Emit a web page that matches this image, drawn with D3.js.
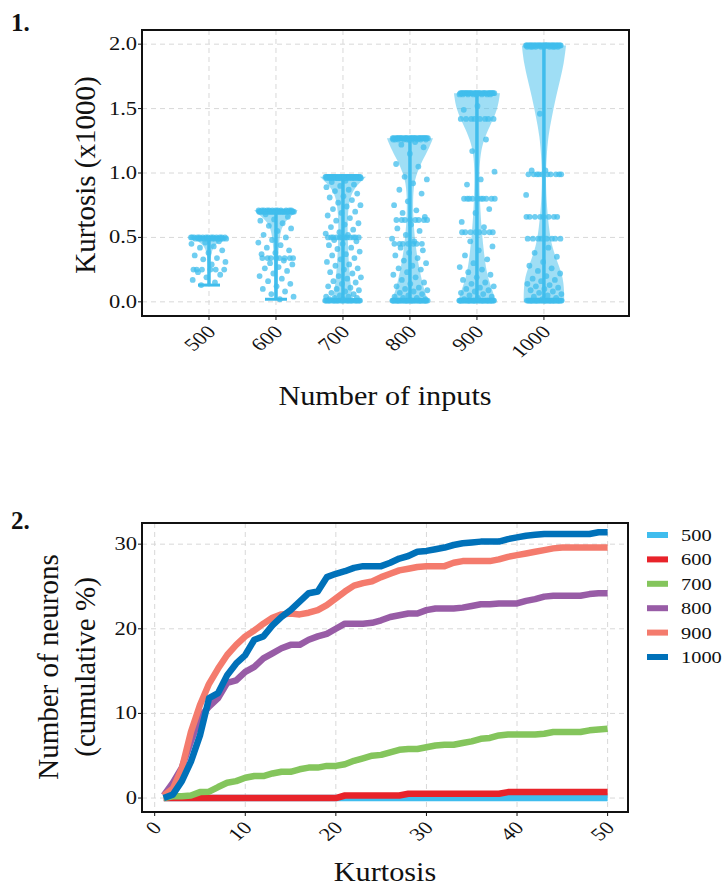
<!DOCTYPE html>
<html>
<head>
<meta charset="utf-8">
<script src="https://cdn.jsdelivr.net/npm/d3@7"></script>
<style>
  body { margin: 0; background: #fff; }
  svg { display: block; }
  text { font-family: "Liberation Serif", "Times New Roman", serif; fill: #111; }
</style>
</head>
<body>
<svg id="fig" width="725" height="886"></svg>
<script>
// ---------- Panel 1: kurtosis distribution per number of inputs ----------
const inputCounts = [500, 600, 700, 800, 900, 1000];
const kurtTicks = [0, 0.5, 1.0, 1.5, 2.0];
const kurtTickLabels = ["0.0", "0.5", "1.0", "1.5", "2.0"];

// repeated kurtosis values (x1000) as [value, number of neurons]
const clusters500 = [[0.50, 14], [0.49, 12], [0.25, 6]];
const clusters600 = [[0.71, 12], [0.70, 30], [0.34, 8]];
const clusters700 = [[0.97, 40], [0.96, 15], [0.50, 12], [0.01, 30]];
const clusters800 = [[1.27, 30], [1.26, 10], [0.635, 8], [0.45, 7], [0.01, 40]];
const clusters900 = [[1.62, 30], [1.61, 8], [1.42, 8], [0.80, 10], [0.54, 8], [0.01, 40]];
const clusters1000 = [[1.99, 35], [1.98, 10], [0.99, 10], [1.02, 2], [0.66, 8], [0.49, 8], [0.01, 40]];
// single kurtosis values (x1000)
const singles500 = [0.47, 0.46, 0.45, 0.43, 0.42, 0.40, 0.38, 0.36, 0.34, 0.33, 0.31, 0.29,
  0.23, 0.21, 0.19, 0.17, 0.15, 0.13];
const singles600 = [0.68, 0.66, 0.64, 0.63, 0.61, 0.59, 0.57, 0.55, 0.52, 0.50, 0.48, 0.46, 0.44,
  0.42, 0.40, 0.38, 0.37, 0.32, 0.30, 0.29, 0.27, 0.26, 0.24, 0.22, 0.20, 0.18, 0.16, 0.14, 0.12,
  0.10, 0.08, 0.06, 0.04, 0.02];
const singles700 = [0.94, 0.93, 0.91, 0.90, 0.89, 0.87, 0.86, 0.84, 0.82, 0.81, 0.79, 0.77, 0.75,
  0.74, 0.72, 0.70, 0.69, 0.67, 0.65, 0.63, 0.61, 0.60, 0.58, 0.56, 0.54, 0.53, 0.52, 0.48, 0.47,
  0.45, 0.44, 0.42, 0.41, 0.39, 0.37, 0.36, 0.34, 0.33, 0.31, 0.29, 0.28, 0.26, 0.25, 0.23, 0.22,
  0.20, 0.19, 0.18, 0.16, 0.15, 0.14, 0.12, 0.11, 0.10, 0.09, 0.08, 0.07, 0.06, 0.05, 0.04, 0.04,
  0.03, 0.03, 0.02, 0.02];
const singles800 = [1.24, 1.22, 1.20, 1.15, 1.07, 1.05, 0.97, 0.95, 0.92, 0.87, 0.84, 0.78, 0.75,
  0.71, 0.69, 0.66, 0.60, 0.57, 0.55, 0.52, 0.49, 0.47, 0.42, 0.40, 0.38, 0.36, 0.34, 0.32, 0.30,
  0.28, 0.26, 0.25, 0.23, 0.21, 0.19, 0.17, 0.15, 0.14, 0.12, 0.11, 0.10, 0.09, 0.08, 0.07, 0.06,
  0.05, 0.04, 0.03, 0.03, 0.02];
const singles900 = [1.52, 1.49, 1.26, 1.17, 1.01, 0.95, 0.91, 0.72, 0.69, 0.62, 0.58, 0.47, 0.43,
  0.40, 0.36, 0.33, 0.30, 0.27, 0.25, 0.23, 0.21, 0.19, 0.17, 0.15, 0.14, 0.12, 0.11, 0.10, 0.09,
  0.08, 0.07, 0.06, 0.05, 0.04, 0.03, 0.02];
const singles1000 = [1.46, 0.83, 0.42, 0.38, 0.35, 0.31, 0.28, 0.26, 0.24, 0.22, 0.20, 0.18, 0.17,
  0.16, 0.14, 0.13, 0.12, 0.11, 0.10, 0.09, 0.08, 0.07, 0.06, 0.05, 0.04, 0.03, 0.02];
const clusterSets = [clusters500, clusters600, clusters700, clusters800, clusters900, clusters1000];
const singleSets = [singles500, singles600, singles700, singles800, singles900, singles1000];

// violin density profiles as [kurtosis, relative density]
const dens500 = [[0.13, 0.03], [0.30, 0.05], [0.42, 0.12], [0.47, 0.45], [0.50, 0.8]];
const dens600 = [[0.02, 0.05], [0.20, 0.08], [0.40, 0.10], [0.58, 0.2], [0.65, 0.55], [0.71, 0.95]];
const dens700 = [[0.00, 0.45], [0.10, 0.35], [0.30, 0.25], [0.50, 0.2], [0.70, 0.2],
  [0.85, 0.35], [0.93, 0.75], [0.97, 1.0]];
const dens800 = [[0.00, 0.8], [0.10, 0.6], [0.30, 0.35], [0.50, 0.2], [0.70, 0.12],
  [0.90, 0.15], [1.00, 0.3], [1.10, 0.55], [1.20, 0.85], [1.27, 1.0]];
const dens900 = [[0.00, 0.8], [0.07, 0.72], [0.17, 0.5], [0.30, 0.35], [0.56, 0.2], [0.80, 0.12],
  [1.00, 0.1], [1.15, 0.15], [1.26, 0.3], [1.36, 0.55], [1.49, 0.9], [1.62, 1.0]];
const dens1000 = [[0.00, 0.88], [0.09, 0.88], [0.20, 0.82], [0.30, 0.6], [0.43, 0.35],
  [0.56, 0.22], [0.80, 0.1], [1.00, 0.08], [1.13, 0.12], [1.28, 0.18], [1.44, 0.35],
  [1.59, 0.52], [1.72, 0.7], [1.85, 0.87], [1.99, 0.96]];
const densities = [dens500, dens600, dens700, dens800, dens900, dens1000];

// ---------- Panel 2: cumulative share of neurons vs kurtosis ----------
const kurtSteps = d3.range(1, 51);
const kurtAxisTicks = [0, 10, 20, 30, 40, 50];
const pctTicks = [0, 10, 20, 30];
const seriesNames = ["500", "600", "700", "800", "900", "1000"];
const seriesColors = ["#3fbdee", "#e8232a", "#84c55c", "#985ca6", "#f47b6d", "#0071b9"];

const cum500 = [0,0,0,0,0,0,0,0,0,0, 0,0,0,0,0,0,0,0,0,0, 0,0,0,0,0,0,0,0,0,0,
  0,0,0,0,0,0,0,0,0,0, 0,0,0,0,0,0,0,0,0,0];
const cum600 = [0,0,0,0,0,0,0,0,0,0, 0,0,0,0,0,0,0,0,0,0, 0.3,0.3,0.3,0.3,0.3,0.3,0.3,0.5,0.5,0.5,
  0.5,0.5,0.5,0.5,0.5,0.5,0.5,0.5,0.7,0.7, 0.7,0.7,0.7,0.7,0.7,0.7,0.7,0.7,0.7,0.7];
const cum700 = [0,0.2,0.2,0.3,0.7,0.75,1.3,1.8,2.0,2.4, 2.6,2.6,2.9,3.1,3.1,3.4,3.6,3.6,3.8,3.8,
  4.0,4.4,4.7,5.0,5.1,5.4,5.7,5.8,5.8,6.0, 6.2,6.3,6.3,6.5,6.7,7.0,7.1,7.4,7.5,7.5,
  7.5,7.5,7.6,7.8,7.8,7.8,7.8,8.0,8.1,8.2];
const cum800 = [0.3,1.8,3.6,6.7,9.6,10.8,11.8,13.6,13.9,14.9, 15.5,16.5,17.1,17.7,18.1,18.1,18.7,19.1,19.4,20.0,
  20.6,20.6,20.6,20.7,21.0,21.4,21.6,21.8,21.8,22.2, 22.4,22.4,22.4,22.5,22.7,22.9,22.9,23.0,23.0,23.0,
  23.3,23.5,23.8,23.9,23.9,23.9,23.9,24.1,24.2,24.2];
const cum900 = [0.3,1.1,3.5,7.8,11.0,13.5,15.3,16.9,18.1,19.1, 19.8,20.6,21.3,21.7,21.8,21.7,21.9,22.2,22.8,23.6,
  24.4,25.1,25.4,25.6,26.1,26.5,26.9,27.1,27.3,27.4, 27.4,27.4,27.8,28.0,28.0,28.0,28.0,28.2,28.5,28.7,
  28.9,29.1,29.3,29.5,29.6,29.6,29.6,29.6,29.6,29.6];
const cum1000 = [0,0.4,2.0,4.3,7.4,11.8,12.4,14.5,15.9,16.9, 18.7,19.1,20.4,21.4,22.2,23.2,24.2,24.4,26.1,26.5,
  26.8,27.2,27.4,27.4,27.4,27.8,28.3,28.6,29.1,29.2, 29.4,29.6,29.9,30.1,30.2,30.3,30.3,30.3,30.6,30.8,
  31.0,31.1,31.2,31.2,31.2,31.2,31.2,31.2,31.4,31.4];
const cumSeries = [cum500, cum600, cum700, cum800, cum900, cum1000];

// ---------- drawing ----------
const svg = d3.select("#fig");
const gridColor = "#d8d8d8";
const ptColor = "#40bdec";
const sx = 1.25;   // horizontal widening of the small axis text

function txt(g, x, y, s, o = {}) {
  const t = g.append("text")
    .attr("transform", `translate(${x},${y}) scale(${o.sx || 1},1) rotate(${o.rot || 0})`)
    .attr("text-anchor", o.anchor || "start")
    .style("font-size", (o.size || 18) + "px")
    .text(s);
  if (o.bold) t.style("font-weight", "bold");
  return t;
}

function frame(x0, y0, x1, y1) {
  svg.append("rect").attr("x", x0).attr("y", y0).attr("width", x1 - x0).attr("height", y1 - y0)
    .attr("fill", "none").attr("stroke", "#111").attr("stroke-width", 2);
}

// ===== Panel 1 =====
const P1 = { l: 142, r: 629, t: 30, b: 316 };
const x1 = d3.scaleLinear().domain([400, 1127]).range([P1.l, P1.r]);
const y1 = d3.scaleLinear().domain([-0.11, 2.11]).range([P1.b, P1.t]);
const g1 = svg.append("g");

// grid
g1.selectAll(".vg").data(inputCounts).join("line")
  .attr("x1", d => x1(d)).attr("x2", d => x1(d)).attr("y1", P1.t).attr("y2", P1.b)
  .attr("stroke", gridColor).attr("stroke-dasharray", "5,4");
g1.selectAll(".hg").data(kurtTicks).join("line")
  .attr("x1", P1.l).attr("x2", P1.r).attr("y1", d => y1(d)).attr("y2", d => y1(d))
  .attr("stroke", gridColor).attr("stroke-dasharray", "5,4");

// violins, whiskers and jittered points
const halfW = d3.scaleLinear().domain([0, 1]).range([0, 23]);
const jitter = 18;
inputCounts.forEach((n, i) => {
  const cx = x1(n);
  const area = d3.area()
    .y(d => y1(d[0]))
    .x0(d => cx - halfW(d[1]))
    .x1(d => cx + halfW(d[1]))
    .curve(d3.curveBasis);
  g1.append("path").attr("d", area(densities[i]))
    .attr("fill", ptColor).attr("fill-opacity", 0.5).attr("stroke", "none");

  const flat = [];
  clusterSets[i].forEach(([v, c]) => { for (let k = 0; k < c; k++) flat.push(v); });
  singleSets[i].forEach(v => flat.push(v));
  const [lo, hi] = d3.extent(flat);

  g1.append("line").attr("x1", cx).attr("x2", cx).attr("y1", y1(lo)).attr("y2", y1(hi))
    .attr("stroke", ptColor).attr("stroke-width", 3.5);
  [lo, hi].forEach(v => {
    g1.append("line").attr("x1", cx - 11).attr("x2", cx + 11).attr("y1", y1(v)).attr("y2", y1(v))
      .attr("stroke", ptColor).attr("stroke-width", 3);
  });

  g1.selectAll(null).data(flat).join("circle")
    .attr("cx", (d, k) => cx + (((k * 0.6180339887 + 0.31 * i) % 1) - 0.5) * 2 * jitter)
    .attr("cy", d => y1(d))
    .attr("r", 2.9)
    .attr("fill", ptColor).attr("fill-opacity", 0.75);
});

frame(P1.l, P1.t, P1.r, P1.b);

// ticks and labels
inputCounts.forEach(n => {
  g1.append("line").attr("x1", x1(n)).attr("x2", x1(n)).attr("y1", P1.b).attr("y2", P1.b + 4)
    .attr("stroke", "#111").attr("stroke-width", 1);
  txt(g1, x1(n) + 8, P1.b + 17, String(n), { anchor: "end", rot: -45, sx: sx, size: 18 });
});
kurtTicks.forEach((v, i) => {
  g1.append("line").attr("x1", P1.l - 4).attr("x2", P1.l).attr("y1", y1(v)).attr("y2", y1(v))
    .attr("stroke", "#111").attr("stroke-width", 1);
  txt(g1, P1.l - 5, y1(v) + 6, kurtTickLabels[i], { anchor: "end", sx: sx, size: 18 });
});
txt(g1, 385, 405, "Number of inputs", { anchor: "middle", sx: 1.08, size: 28 });
txt(g1, 95, 175, "Kurtosis (x1000)", { anchor: "middle", rot: -90, size: 29 });
txt(g1, 11, 31, "1.", { size: 25, bold: true });

// ===== Panel 2 =====
const P2 = { l: 142, r: 628, t: 523, b: 812 };
const x2 = d3.scaleLinear().domain([-1.4, 52.25]).range([P2.l, P2.r]);
const y2 = d3.scaleLinear().domain([-1.65, 32.5]).range([P2.b, P2.t]);
const g2 = svg.append("g");

g2.selectAll(".vg").data(kurtAxisTicks).join("line")
  .attr("x1", d => x2(d)).attr("x2", d => x2(d)).attr("y1", P2.t).attr("y2", P2.b)
  .attr("stroke", gridColor).attr("stroke-dasharray", "5,4");
g2.selectAll(".hg").data(pctTicks).join("line")
  .attr("x1", P2.l).attr("x2", P2.r).attr("y1", d => y2(d)).attr("y2", d => y2(d))
  .attr("stroke", gridColor).attr("stroke-dasharray", "5,4");

const line = d3.line().x((d, k) => x2(kurtSteps[k])).y(d => y2(d)).curve(d3.curveLinear);
cumSeries.forEach((s, i) => {
  g2.append("path").attr("d", line(s))
    .attr("fill", "none").attr("stroke", seriesColors[i]).attr("stroke-width", 6.5)
    .attr("stroke-linejoin", "round").attr("stroke-linecap", "butt");
});

frame(P2.l, P2.t, P2.r, P2.b);

kurtAxisTicks.forEach(v => {
  g2.append("line").attr("x1", x2(v)).attr("x2", x2(v)).attr("y1", P2.b).attr("y2", P2.b + 4)
    .attr("stroke", "#111").attr("stroke-width", 1);
  txt(g2, x2(v) + 8, P2.b + 17, String(v), { anchor: "end", rot: -45, sx: sx, size: 18 });
});
pctTicks.forEach(v => {
  g2.append("line").attr("x1", P2.l - 4).attr("x2", P2.l).attr("y1", y2(v)).attr("y2", y2(v))
    .attr("stroke", "#111").attr("stroke-width", 1);
  txt(g2, P2.l - 5, y2(v) + 6, String(v), { anchor: "end", sx: sx, size: 18 });
});
txt(g2, 385, 881, "Kurtosis", { anchor: "middle", sx: 1.08, size: 28 });
txt(g2, 58, 667, "Number of neurons", { anchor: "middle", rot: -90, size: 29 });
txt(g2, 95, 667, "(cumulative %)", { anchor: "middle", rot: -90, size: 29 });
txt(g2, 11, 529, "2.", { size: 25, bold: true });

// legend
const legY = d3.scalePoint().domain(seriesNames).range([535, 657]);
seriesNames.forEach((name, i) => {
  g2.append("rect").attr("x", 647).attr("y", legY(name) - 3).attr("width", 21).attr("height", 6)
    .attr("fill", seriesColors[i]);
  txt(g2, 681, legY(name) + 6, name, { sx: 1.2, size: 17 });
});
</script>
</body>
</html>
